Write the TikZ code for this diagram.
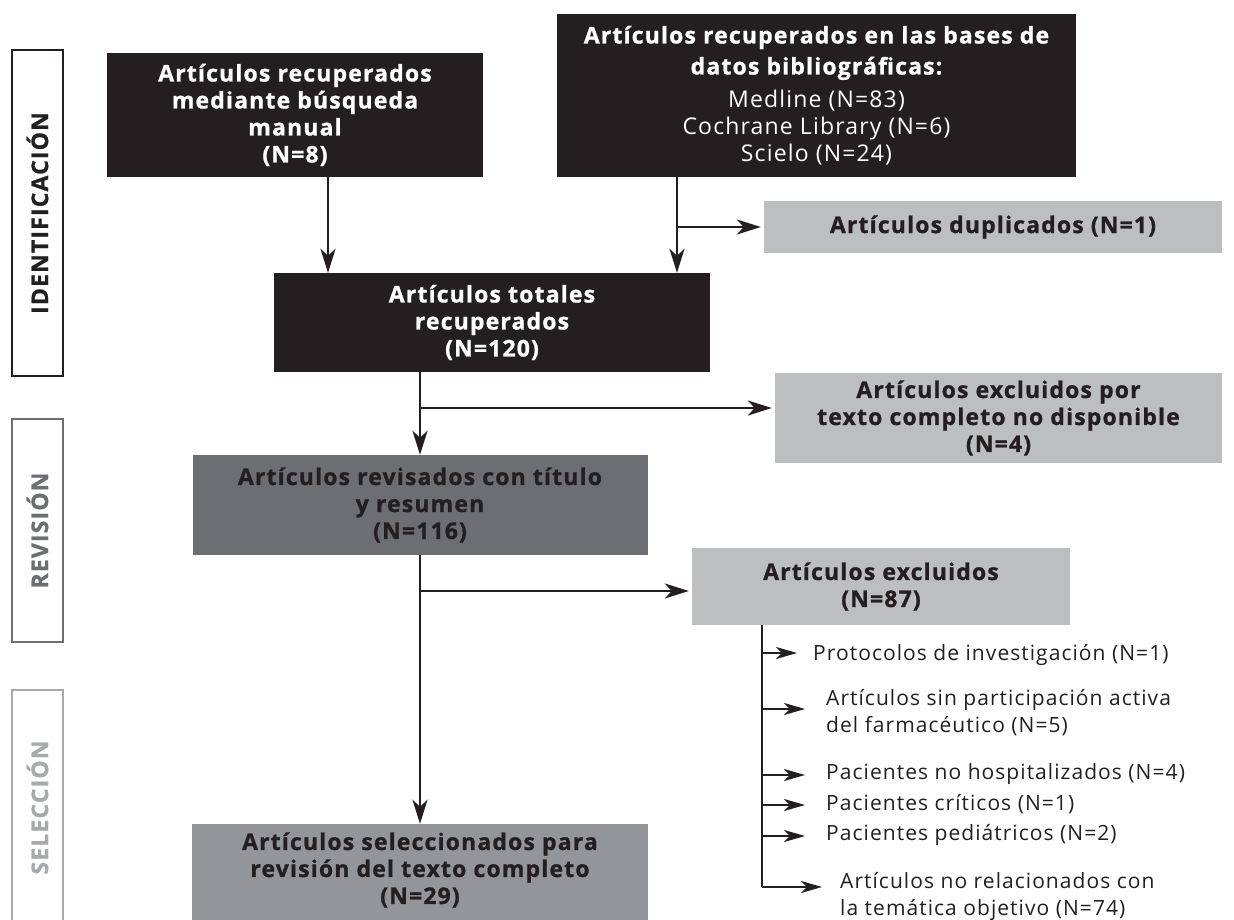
\documentclass[tikz,border=0pt]{standalone}
\usepackage{fontspec}
\setmainfont{Open Sans}[LetterSpace=5, BoldFeatures={FakeBold=1}]
\usetikzlibrary{arrows.meta}
\definecolor{ink}{HTML}{231F20}
\definecolor{dgray}{HTML}{6D6E71}
\definecolor{mgray}{HTML}{939598}
\definecolor{lgray}{HTML}{BCBEC0}
\definecolor{sgray}{HTML}{A7A9AC}
\begin{document}
\begin{tikzpicture}[x=1pt,y=-1pt,
  box/.style={rectangle, inner sep=0pt, align=center, font=\fontsize{23}{27}\selectfont\bfseries},
  blackbox/.style={box, fill=ink, text=white},
  darkbox/.style={box, fill=dgray, text=ink},
  midbox/.style={box, fill=mgray, text=ink},
  lightbox/.style={box, fill=lgray, text=ink},
  side/.style={draw, line width=2pt, rotate=90, inner sep=0pt, font=\fontsize{23}{28}\selectfont\bfseries},
  flow/.style={draw=ink, line width=2.6pt, -{Stealth[length=24pt,width=15pt,inset=7pt]}},
  plain/.style={draw=ink, line width=2.4pt},
  small/.style={draw=ink, line width=2.4pt, -{Stealth[length=21pt,width=12pt,inset=6pt]}},
  item/.style={anchor=west, align=left, inner sep=0pt, text=ink, font=\fontsize{21}{27}\selectfont}
]
\useasboundingbox (0,0) rectangle (1234,920);
\clip (0,0) rectangle (1234,920);

% side labels
\node[side, draw=ink, text=ink, minimum width=326pt, minimum height=51pt] (sid) at (37.5,213) {IDENTIFICACIÓN};
\node[side, draw=dgray, text=dgray, minimum width=223pt, minimum height=51pt] (srev) at (37.5,530.5) {REVISIÓN};
\node[side, draw=sgray, text=sgray, minimum width=235pt, minimum height=51pt] (ssel) at (37.5,807.5) {SELECCIÓN};

% boxes
\node[blackbox, minimum width=376pt, minimum height=124pt] (A) at (295,115) {Artículos recuperados\\mediante búsqueda\\manual\\(N=8)};
\node[blackbox, minimum width=519pt, minimum height=163pt] (B) at (816.5,95.5) {Artículos recuperados en las bases de\\[4pt]datos bibliográficas:\\[6pt]{\mdseries Medline (N=83)}\\{\mdseries Cochrane Library (N=6)}\\{\mdseries Scielo (N=24)}};
\node[blackbox, minimum width=436pt, minimum height=99pt] (C) at (492,322.5) {Artículos totales\\recuperados\\(N=120)};
\node[lightbox, minimum width=458pt, minimum height=52pt] (D) at (993,227) {Artículos duplicados (N=1)};
\node[darkbox, minimum width=455pt, minimum height=100pt] (E) at (420,505) {Artículos revisados con título\\y resumen\\(N=116)};
\node[lightbox, minimum width=447pt, minimum height=90pt] (F) at (998.5,418) {Artículos excluidos por\\texto completo no disponible\\(N=4)};
\node[lightbox, minimum width=378pt, minimum height=77pt] (H) at (881,586.5) {Artículos excluidos\\(N=87)};
\node[midbox, minimum width=456pt, minimum height=101pt] (G) at (420,874.5) {};
\node[box, text=ink] (Gt) at (420,870) {Artículos seleccionados para\\revisión del texto completo\\(N=29)};

% exclusion items
\node[item] (i1) at (813,655) {Protocolos de investigación (N=1)};
\node[item] (i2) at (826,713) {Artículos sin participación activa\\del farmacéutico (N=5)};
\node[item] (i3) at (826,774) {Pacientes no hospitalizados (N=4)};
\node[item] (i4) at (826,804) {Pacientes críticos (N=1)};
\node[item] (i5) at (826,835) {Pacientes pediátricos (N=2)};
\node[item] (i6) at (840,896) {Artículos no relacionados con\\la temática objetivo (N=74)};

% connectors
\coordinate (ax) at (328,0);
\coordinate (bx) at (677,0);
\draw[flow] (A.south -| ax) -- (C.north -| ax);
\draw[flow] (B.south -| bx) -- (C.north -| bx);
\draw[flow, shorten >=3pt] (bx |- D.west) -- (D.west);
\draw[flow] (C.south -| E.north) -- (E.north);
\coordinate (cb) at (420,408);
\draw[flow, shorten >=3pt] (cb) -- (cb -| F.west);
\draw[flow] (E.south) -- (G.north);
\coordinate (eb) at (420,591);
\draw[flow, shorten >=3pt] (eb) -- (eb -| H.west);

\coordinate (hx) at (762,887);
\draw[plain] (H.south -| hx) -- (hx);
\coordinate (e1) at (797,653);
\coordinate (e2) at (805,709);
\coordinate (e3) at (805,775);
\coordinate (e4) at (805,805);
\coordinate (e5) at (805,836);
\coordinate (e6) at (822,887);
\draw[small] (hx |- e1) -- (e1);
\draw[small] (hx |- e2) -- (e2);
\draw[small] (hx |- e3) -- (e3);
\draw[small] (hx |- e4) -- (e4);
\draw[small] (hx |- e5) -- (e5);
\draw[small] (hx |- e6) -- (e6);
\end{tikzpicture}
\end{document}
